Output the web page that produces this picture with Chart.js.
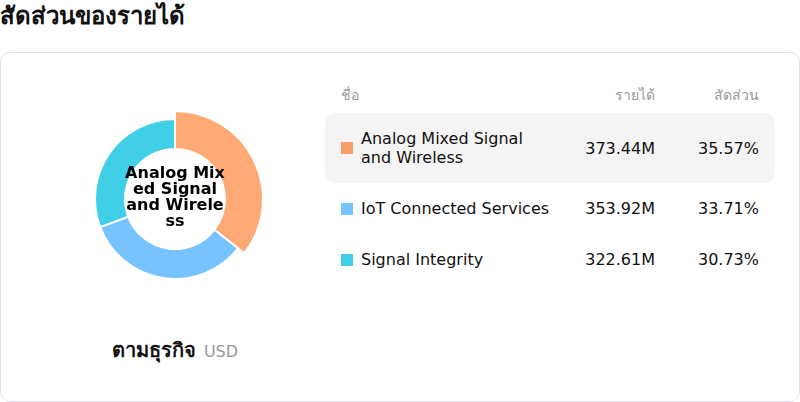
<!DOCTYPE html>
<html>
<head>
<meta charset="utf-8">
<script src="https://cdn.jsdelivr.net/npm/chart.js@4.4.1/dist/chart.umd.min.js"></script>
<style>
  html, body { margin: 0; padding: 0; background: #fff; }
  body { width: 800px; height: 402px; position: relative; overflow: hidden; font-family: "DejaVu Sans", "Noto Sans", sans-serif; color: #111; }
  #title { position: absolute; left: 0; top: 0; font-size: 24px; font-weight: bold; line-height: 32px; }
  #card { position: absolute; left: 0; top: 52px; width: 800px; height: 350px; box-sizing: border-box; border: 1px solid #e2e0ea; border-radius: 10px; }
  #chartBox { position: absolute; left: 75px; top: 99px; width: 200px; height: 200px; }
  #sub { position: absolute; left: 0; width: 350px; top: 338px; text-align: center; line-height: 24px; }
  #sub b { font-size: 20px; }
  #sub span { font-size: 16px; color: #999; margin-left: 8px; }
  #legend { position: absolute; left: 325px; top: 84px; width: 450px; border-collapse: collapse; table-layout: fixed; }
  #legend th { font-weight: normal; font-size: 14px; color: #999; height: 22px; padding: 0 16px 7px 0; text-align: right; vertical-align: middle; white-space: nowrap; }
  #legend th.name { text-align: left; padding-left: 16px; }
  #legend td { font-size: 16px; line-height: 19px; padding: 16px 16px 16px 0; vertical-align: middle; text-align: right; white-space: nowrap; }
  #legend td.mid, #legend th.mid { padding-right: 0; }
  #legend td.name { text-align: left; padding-left: 16px; padding-right: 0; white-space: normal; }
  #legend tr.hl td { background: #f4f4f4; }
  #legend tr.hl td:first-child { border-radius: 10px 0 0 10px; }
  #legend tr.hl td:last-child { border-radius: 0 10px 10px 0; }
  .sw { flex: none; display: inline-block; width: 12px; height: 12px; margin-right: 8px; }
  .nm { display: inline-block; max-width: 192px; }
  .nmwrap { display: flex; align-items: center; }
</style>
</head>
<body>
<div id="title">สัดส่วนของรายได้</div>
<div id="card"></div>
<div id="chartBox"><canvas id="c"></canvas></div>
<div id="sub"><b>ตามธุรกิจ</b><span>USD</span></div>
<table id="legend"><colgroup><col style="width:240px"><col style="width:90px"><col style="width:120px"></colgroup><tbody id="lb"></tbody></table>
<script>
const categories = ["Analog Mixed Signal and Wireless", "IoT Connected Services", "Signal Integrity"];
const revenue = [373.44, 353.92, 322.61];
const revenueLabels = ["373.44M", "353.92M", "322.61M"];
const shareLabels = ["35.57%", "33.71%", "30.73%"];
const sliceColors = ["#FFA974", "#77C3FF", "#40CFE6"];
const swatchColors = ["#F99B6B", "#77C3FF", "#40CFE6"];
const headers = ["ชื่อ", "รายได้", "สัดส่วน"];
const highlighted = 0;

// legend table
const tb = document.getElementById('lb');
let html = '<tr><th class="name">' + headers[0] + '</th><th class="mid">' + headers[1] + '</th><th>' + headers[2] + '</th></tr>';
categories.forEach((c, i) => {
  html += '<tr' + (i === highlighted ? ' class="hl"' : '') + '><td class="name"><div class="nmwrap"><span class="sw" style="background:' + swatchColors[i] + '"></span><span class="nm">' + c + '</span></div></td><td class="mid">' + revenueLabels[i] + '</td><td>' + shareLabels[i] + '</td></tr>';
});
tb.innerHTML = html;

const growPlugin = {
  id: 'grow',
  afterDatasetsUpdate(chart) {
    const arc = chart.getDatasetMeta(0).data[highlighted];
    if (arc) arc.outerRadius += 8;
  }
};

const centerText = {
  id: 'centerText',
  afterDraw(chart) {
    const ctx = chart.ctx;
    const arc = chart.getDatasetMeta(0).data[0];
    const cx = arc.x, cy = arc.y;
    const text = categories[highlighted];
    ctx.save();
    ctx.font = 'bold 16px "DejaVu Sans"';
    ctx.fillStyle = '#000';
    ctx.textAlign = 'center';
    ctx.textBaseline = 'middle';
    const lines = [];
    for (let i = 0; i < text.length; i += 10) lines.push(text.slice(i, i + 10).trim());
    const lh = 15.8;
    const y0 = cy - (lines.length - 1) * lh / 2 - 1;
    lines.forEach((l, i) => ctx.fillText(l, cx, y0 + i * lh));
    ctx.restore();
  }
};

new Chart(document.getElementById('c'), {
  type: 'doughnut',
  data: {
    labels: categories,
    datasets: [{
      data: revenue,
      backgroundColor: sliceColors,
      borderColor: '#ffffff',
      borderWidth: 2,
      hoverOffset: 0
    }]
  },
  options: {
    responsive: true,
    maintainAspectRatio: false,
    animation: false,
    radius: 80,
    cutout: '62.5%',
    events: [],
    layout: { padding: 0 },
    plugins: { legend: { display: false }, tooltip: { enabled: false } }
  },
  plugins: [growPlugin, centerText]
});
</script>
</body>
</html>
